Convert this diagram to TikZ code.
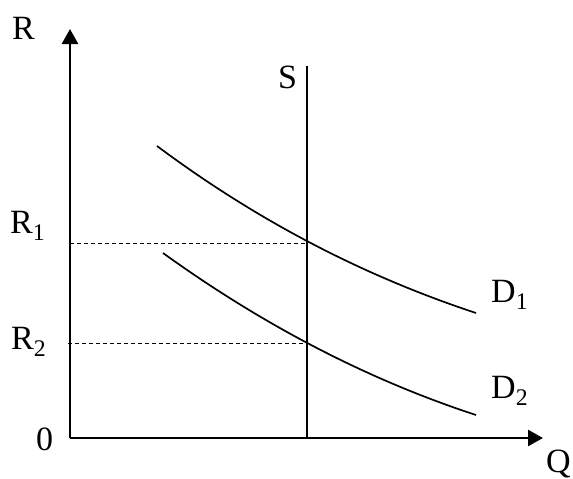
\documentclass[tikz,border=0pt]{standalone}
\usepackage{fontspec}
\setmainfont{Liberation Serif}
\usetikzlibrary{arrows.meta,positioning}

\begin{document}
\begin{tikzpicture}[x=1pt, y=-1pt,
      axis/.style={line width=2.6pt, -{Triangle[length=15pt,width=16pt]}},
      curve/.style={line width=1.7pt},
      guide/.style={line width=1pt, dash pattern=on 4pt off 3pt},
      lbl/.style={font=\fontsize{34}{40}\selectfont, inner sep=0pt, anchor=base west}
    ]
      \useasboundingbox (0,0) rectangle (573,479);

      % axes
      \coordinate (o) at (70,438);
      \coordinate (ytop) at (70,29);
      \coordinate (xend) at (543,438);
      \draw[axis] (o) -- (ytop);
      \draw[axis] (o) -- (xend);

      % supply
      \coordinate (stop) at (307,66);
      \coordinate (sbot) at (307,437);
      \draw[curve] (stop) -- (sbot);

      % demand curves
      \coordinate (d1a) at (157,146);
      \coordinate (d1b) at (476,313);
      \coordinate (d2a) at (163,253);
      \coordinate (d2b) at (476,415);
      \draw[curve] (d1a) .. controls (263,225) and (370,278) .. (d1b);
      \draw[curve] (d2a) .. controls (267,328) and (372,381) .. (d2b);

      % equilibrium levels
      \coordinate (e1) at (307,243);
      \coordinate (e2) at (307,343);
      \coordinate (r1) at (70,243);
      \coordinate (r2) at (68,343);
      \draw[guide] (r1) -- (e1);
      \draw[guide] (r2) -- (e2);

      \node[lbl] (lR) at (12,39) {R};
      \node[lbl] (lR1) at (10,233) {R\textsubscript{1}};
      \node[lbl] (lR2) at (11,349) {R\textsubscript{2}};
      \node[lbl] (l0) at (36,450) {0};
      \node[lbl] (lS) at (278,88) {S};
      \node[lbl] (lD1) at (491,302) {D\textsubscript{1}};
      \node[lbl] (lD2) at (491,398) {D\textsubscript{2}};
      \node[lbl] (lQ) at (546,472) {Q};
    \end{tikzpicture}
\end{document}
